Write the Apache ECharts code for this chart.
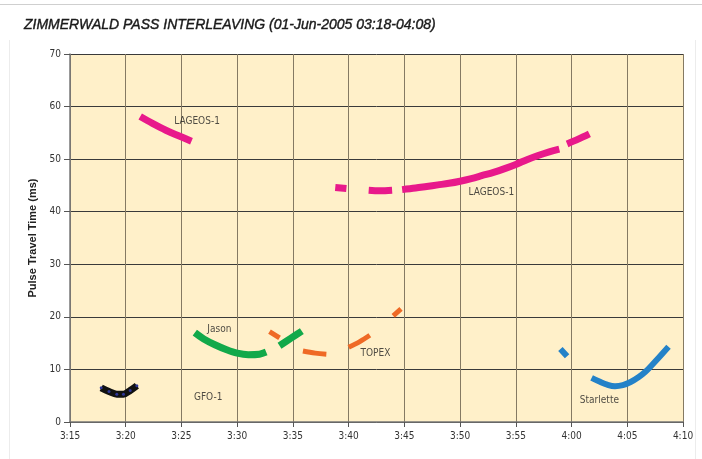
<!DOCTYPE html>
<html>
<head>
<meta charset="utf-8">
<style>
  html, body { margin: 0; padding: 0; background: #ffffff; }
  #chart { width: 702px; height: 459px; }
</style>
<script src="https://cdn.jsdelivr.net/npm/echarts@6/dist/echarts.min.js"></script>
</head>
<body>
<div id="chart"></div>
<script>
// Time values are minutes after midnight (195 = 3:15, 250 = 4:10).
// Null entries split a pass into separate tracking segments.
const lageosPass1 = [[201.3, 58.1], [202.4, 56.8], [203.6, 55.5], [204.8, 54.4], [205.9, 53.4]];
const lageosPass2 = [
  [218.8, 44.6], [219.8, 44.4], null,
  [221.8, 44.1], [222.8, 44.0], [223.9, 44.1], null,
  [224.8, 44.2], [226, 44.5], [227, 44.8], [228, 45.1], [229, 45.4], [230, 45.8],
  [231, 46.3], [232, 46.9], [233, 47.5], [234, 48.2], [235, 49.0], [236, 49.9],
  [237, 50.7], [238, 51.4], [238.9, 51.9], null,
  [239.6, 52.9], [240.6, 53.8], [241.6, 54.8]
];
const jason = [
  [206.2, 17.0], [207.0, 15.8], [208.0, 14.7], [209.0, 13.8], [210.0, 13.1],
  [211.0, 12.8], [212.0, 12.9], [212.6, 13.3], null,
  [213.8, 14.5], [214.8, 15.9], [215.8, 17.3]
];
const topex = [
  [212.9, 17.2], [213.8, 16.0], null,
  [215.9, 13.5], [217.0, 13.1], [218.0, 12.9], null,
  [220.0, 14.2], [221.0, 15.3], [221.9, 16.5], null,
  [224.0, 20.2], [224.7, 21.5]
];
const gfo1 = [[197.8, 6.5], [198.5, 5.8], [199.2, 5.3], [199.8, 5.3], [200.4, 6.0], [201.0, 6.9]];
const starlette = [
  [239.0, 13.9], [239.6, 12.5], null,
  [241.8, 8.4], [242.5, 7.7], [243.2, 7.1], [243.9, 6.8], [244.6, 7.0], [245.3, 7.6],
  [246.0, 8.5], [246.6, 9.5], [247.2, 10.8], [247.9, 12.4], [248.7, 14.3]
];

// Satellite name annotations
const labelNames = ['LAGEOS-1', 'LAGEOS-1', 'Jason', 'TOPEX', 'GFO-1', 'Starlette'];
const labelX = [206.4, 232.8, 208.4, 222.4, 207.4, 242.5];
const labelY = [57.2, 43.7, 17.7, 13.1, 4.6, 4.2];

const xMin = 195, xMax = 250, xStep = 5;
const yMin = 0, yMax = 70, yStep = 10;

function fmtTime(v) {
  const h = Math.floor(v / 60);
  const m = Math.round(v - h * 60);
  return h + ':' + (m < 10 ? '0' + m : m);
}

function track(name, data, color, extra) {
  return Object.assign({
    name: name,
    type: 'line',
    data: data,
    smooth: 0.35,
    connectNulls: false,
    showSymbol: false,
    symbol: 'none',
    lineStyle: { color: color, width: 7, cap: 'butt', join: 'round' },
    itemStyle: { color: color },
    z: 3
  }, extra || {});
}

const chart = echarts.init(document.getElementById('chart'), null, { renderer: 'canvas' });
chart.setOption({
  animation: false,
  backgroundColor: '#ffffff',
  title: {
    text: 'ZIMMERWALD PASS INTERLEAVING (01-Jun-2005 03:18-04:08)',
    left: 19, top: 13,
    textStyle: {
      fontFamily: 'Liberation Sans', fontStyle: 'italic', fontWeight: 'normal',
      fontSize: 14, color: '#1a1a1a',
      textBorderColor: '#1a1a1a', textBorderWidth: 0.4
    }
  },
  graphic: [
    { type: 'line', shape: { x1: 0, y1: 4.5, x2: 702, y2: 4.5 }, style: { stroke: '#cfcfcf', lineWidth: 1 }, silent: true },
    { type: 'line', shape: { x1: 9.5, y1: 40, x2: 9.5, y2: 459 }, style: { stroke: '#ececec', lineWidth: 1 }, silent: true },
    { type: 'line', shape: { x1: 695.5, y1: 40, x2: 695.5, y2: 459 }, style: { stroke: '#ececec', lineWidth: 1 }, silent: true }
  ],
  grid: {
    left: 70, right: 19, top: 54, bottom: 37,
    show: true, backgroundColor: '#fff0c9', borderWidth: 0
  },
  xAxis: {
    type: 'value', min: xMin, max: xMax, interval: xStep,
    axisLine: { show: true, onZero: false, lineStyle: { color: '#777', width: 1.5 } },
    axisTick: { show: true, length: 5, lineStyle: { color: '#555' } },
    axisLabel: {
      formatter: fmtTime, color: '#333', fontSize: 10, margin: 9,
      fontFamily: 'DejaVu Sans Condensed'
    },
    splitLine: { show: true, lineStyle: { color: '#857a63', width: 1 } }
  },
  yAxis: {
    type: 'value', min: yMin, max: yMax, interval: yStep,
    name: 'Pulse Travel Time (ms)', nameLocation: 'middle', nameGap: 26,
    nameTextStyle: { fontFamily: 'Liberation Sans', fontWeight: 'bold', fontSize: 11, color: '#222' },
    axisLine: { show: true, lineStyle: { color: '#777', width: 1.5 } },
    axisTick: { show: true, length: 6, lineStyle: { color: '#555' } },
    axisLabel: { color: '#333', fontSize: 10, margin: 9, fontFamily: 'DejaVu Sans Condensed' },
    splitLine: { show: true, lineStyle: { color: '#3a3a3a', width: 1 } }
  },
  series: [
    track('LAGEOS-1 a', lageosPass1, '#e8198b'),
    track('LAGEOS-1 b', lageosPass2, '#e8198b'),
    track('Jason', jason, '#12a94a'),
    track('TOPEX', topex, '#ef6a26', { lineStyle: { color: '#ef6a26', width: 5, cap: 'butt', join: 'round' } }),
    track('GFO-1', gfo1, '#111111', {
      showSymbol: true, symbol: 'circle', symbolSize: 3,
      itemStyle: { color: '#2d3596' }
    }),
    track('Starlette', starlette, '#2482c8', { lineStyle: { color: '#2482c8', width: 6, cap: 'butt', join: 'round' } }),
    {
      name: 'labels',
      type: 'scatter',
      symbolSize: 0,
      z: 5,
      data: labelNames.map((n, i) => ({ value: [labelX[i], labelY[i]], name: n })),
      label: {
        show: true, position: 'inside', formatter: p => p.name,
        color: '#222', fontSize: 10, fontFamily: 'DejaVu Sans Condensed'
      }
    }
  ]
});
</script>
</body>
</html>
